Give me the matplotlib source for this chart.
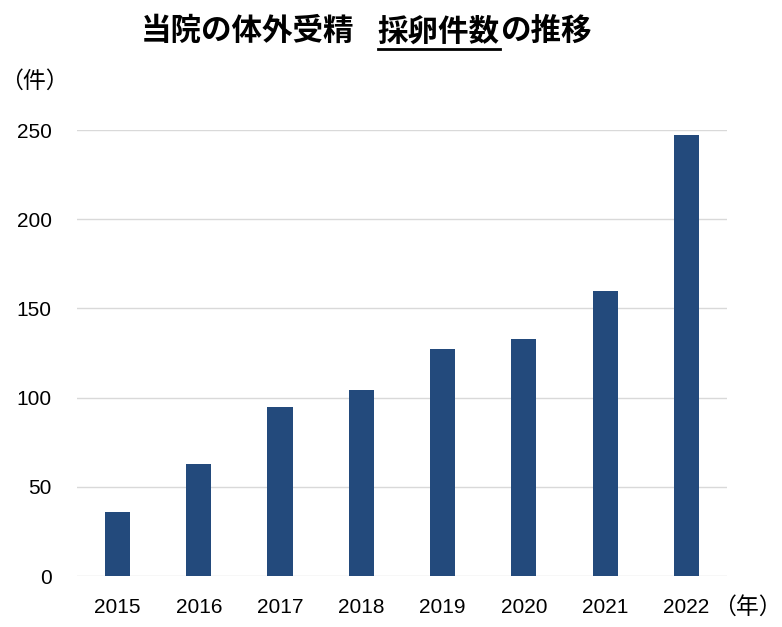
import matplotlib
matplotlib.use("Agg")
import matplotlib.pyplot as plt
from matplotlib.lines import Line2D

# データ
years = ["2015", "2016", "2017", "2018", "2019", "2020", "2021", "2022"]
counts = [36, 63, 95, 104, 127, 133, 160, 247]
yticks = [0, 50, 100, 150, 200, 250]

jp = ["Noto Sans CJK JP", "DejaVu Sans"]
num = ["Liberation Sans Narrow", "Liberation Sans", "DejaVu Sans"]
plt.rcParams["font.family"] = jp

fig = plt.figure(figsize=(7.82, 6.27), dpi=100)
ax = fig.add_axes([0.0983, 0.0813, 0.8314, 0.7113])

ax.bar(years, counts, width=0.31, color="#234A7C", zorder=3)
ax.set_ylim(0, 250)
ax.set_xlim(-0.5, len(years) - 0.5)
ax.set_yticks(yticks)
ax.yaxis.grid(True, color="#D9D9D9", linewidth=1.0, zorder=0)
for s in ax.spines.values():
    s.set_visible(False)
ax.tick_params(axis="both", length=0)
ax.tick_params(axis="y", pad=18)
ax.tick_params(axis="x", pad=16)
for lab in ax.get_xticklabels() + ax.get_yticklabels():
    lab.set_family(num)
    lab.set_fontsize(15)

fig.text(0.0, 0.871, "（件）", fontsize=16.5, ha="left", va="center", family=jp)
fig.text(0.999, 0.032, "（年）", fontsize=16.5, ha="right", va="center", family=jp)

# タイトル（「採卵件数」に下線）
parts = ["当院の体外受精", "採卵件数", "の推移"]
gaps = [0.0, 0.030, 0.0]
ty = 0.950
texts = []
x = 0.18
fig.canvas.draw()
r = fig.canvas.get_renderer()
for p, g in zip(parts, gaps):
    x += g
    t = fig.text(x, ty, p, fontsize=22, fontweight="bold", ha="left", va="center", family=jp)
    bb = t.get_window_extent(renderer=r).transformed(fig.transFigure.inverted())
    texts.append((t, bb))
    x = bb.x1
total = x - 0.18
shift = 0.468 - (0.18 + total / 2)
for t, bb in texts:
    t.set_x(t.get_position()[0] + shift)
ub = texts[1][1]
uy = ub.y0 - 0.002
fig.add_artist(Line2D([ub.x0 + shift, ub.x1 + shift], [uy, uy],
                      transform=fig.transFigure, color="black", linewidth=2.0))

fig.savefig("out.png", dpi=100)
